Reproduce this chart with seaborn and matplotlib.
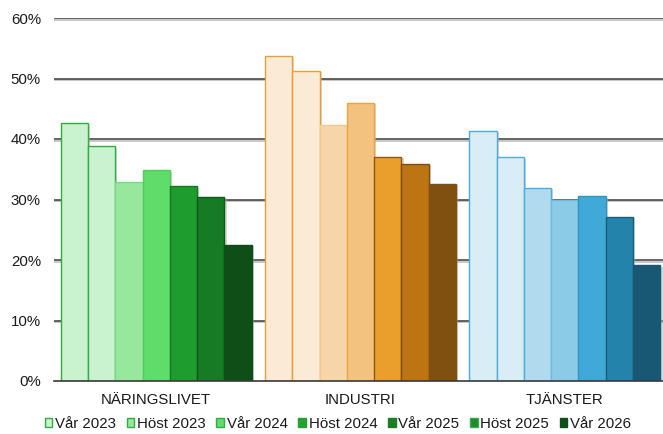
import matplotlib
matplotlib.use("Agg")
import matplotlib.pyplot as plt
import matplotlib.patheffects as pe
from matplotlib.patches import Patch
import seaborn as sns
import pandas as pd

categories = ["NÄRINGSLIVET", "INDUSTRI", "TJÄNSTER"]
periods = ["Vår 2023", "Höst 2023", "Vår 2024", "Höst 2024", "Vår 2025", "Höst 2025", "Vår 2026"]
naringslivet = [42.6, 38.8, 32.9, 34.8, 32.2, 30.4, 22.5]
industri = [53.7, 51.3, 42.3, 46.0, 37.1, 35.9, 32.6]
tjanster = [41.3, 37.0, 31.9, 30.0, 30.5, 27.1, 19.1]
yticks = [0, 10, 20, 30, 40, 50, 60]
ytick_labels = ["0%", "10%", "20%", "30%", "40%", "50%", "60%"]

fills = [
    ["#C9F2CF", "#C9F2CF", "#97E89C", "#5EDD6B", "#1E9C2D", "#177A24", "#0F4E17"],
    ["#FBEAD6", "#FBEAD6", "#F6D6A8", "#F2C27E", "#EA9E2B", "#BD7412", "#80500F"],
    ["#D8EDF6", "#D8EDF6", "#B2DAEE", "#8BCBE7", "#40A9D5", "#2383AA", "#195874"],
]
edges = [
    ["#33AA44", "#33AA44", "#7BD885", "#4CCD5C", "#137A22", "#0D5A18", "#0F4E17"],
    ["#EBA035", "#EBA035", "#F3C88A", "#EBA540", "#8B5A10", "#7D4E0E", "#80500F"],
    ["#4AADDB", "#4AADDB", "#4AADDB", "#6BBDE0", "#2E95C3", "#1B5F7E", "#195874"],
]
legend_fills = ["#C9F2CF", "#97E89C", "#5EDD6B", "#25A133", "#1B7F27", "#1E8B2B", "#0F4E17"]
legend_edges = ["#33AA44", "#33AA44", "#33AA44", "#25A133", "#1B7F27", "#3CA848", "#0F4E17"]

rows = []
for cat, vals in zip(categories, [naringslivet, industri, tjanster]):
    for p, v in zip(periods, vals):
        rows.append({"kategori": cat, "period": p, "andel": v})
df = pd.DataFrame(rows)

sns.set_theme(style="white")
plt.rcParams["font.family"] = ["Liberation Sans", "DejaVu Sans"]
FS = 10.8

fig = plt.figure(figsize=(6.63, 4.34), dpi=100)
ax = fig.add_axes([54 / 663, 1 - 381 / 434, (667 - 54) / 663, (381 - 18) / 434])
ax.set_axisbelow(True)

sns.barplot(data=df, x="kategori", y="andel", hue="period", order=categories,
            hue_order=periods, width=0.936, gap=0, ax=ax, legend=False,
            saturation=1, errorbar=None)

shadow = [pe.SimplePatchShadow(offset=(1.5, -1.0), shadow_rgbFace="#b0b0b0", alpha=0.5), pe.Normal()]
for i, cont in enumerate(ax.containers):
    for j, bar in enumerate(cont):
        bar.set_facecolor(fills[j][i])
        bar.set_edgecolor(edges[j][i])
        bar.set_linewidth(1.0)
        bar.set_zorder(3)
        bar.set_path_effects(shadow)

ax.set_ylim(0, 60)
ax.set_xlim(-0.5, 2.5)
ax.set_yticks(yticks)
ax.set_yticklabels(ytick_labels)
ax.set_xlabel("")
ax.set_ylabel("")

for s in ["top", "right", "left"]:
    ax.spines[s].set_visible(False)
ax.spines["bottom"].set_color("#3a3a3a")
ax.spines["bottom"].set_linewidth(1.2)
ax.spines["bottom"].set_zorder(5)

gl_shadow = [pe.SimpleLineShadow(offset=(0, -1.3), shadow_color="#bdbdbd", alpha=1), pe.Normal()]
for y in yticks[1:]:
    ax.axhline(y, color="#4a4a4a", lw=1.2, zorder=0.5, path_effects=gl_shadow)

ax.tick_params(axis="y", length=0, pad=9.4, labelsize=FS, labelcolor="#1a1a1a")
ax.tick_params(axis="x", which="major", length=0, pad=9, labelsize=FS, labelcolor="#1a1a1a")
ax.set_xticks([-0.5, 0.5, 1.5, 2.5], minor=True)
ax.tick_params(axis="x", which="minor", length=5, width=1.0, color="#3a3a3a", direction="out")

handles = [Patch(facecolor=f, edgecolor=e, linewidth=1.0) for f, e in zip(legend_fills, legend_edges)]
fig.legend(handles, periods, loc="center", bbox_to_anchor=(338 / 663, 1 - 424 / 434),
           ncol=7, frameon=False, handlelength=0.5, handleheight=0.5, handletextpad=0.2,
           columnspacing=0.7, fontsize=FS, labelcolor="#1a1a1a")

fig.savefig("out.png", dpi=100)
